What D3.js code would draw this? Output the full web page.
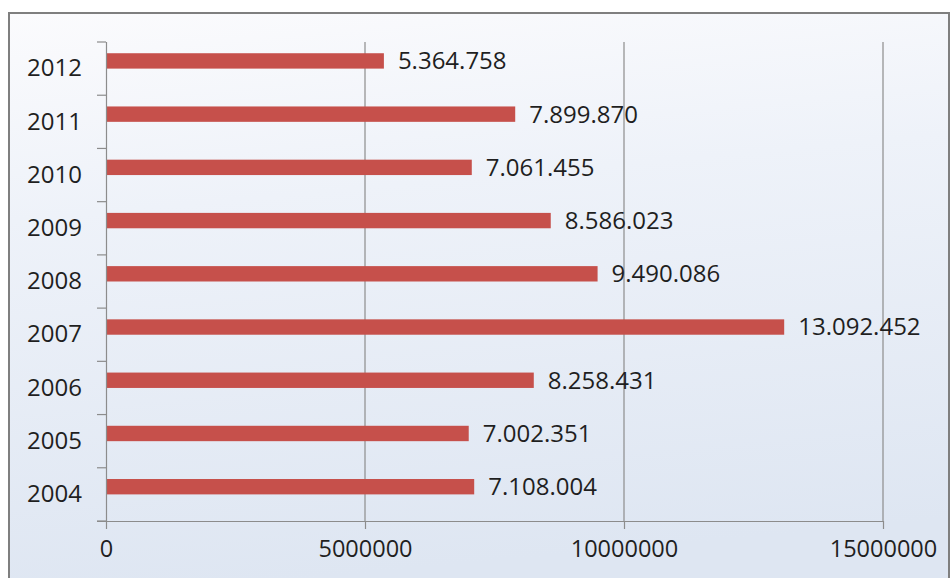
<!DOCTYPE html>
<html>
<head>
<meta charset="utf-8">
<script src="https://cdn.jsdelivr.net/npm/d3@7"></script>
<style>
  html, body { margin: 0; padding: 0; background: #ffffff; }
  svg { display: block; }
</style>
</head>
<body>
<script>
// Yearly totals, top to bottom
const years = ["2012", "2011", "2010", "2009", "2008", "2007", "2006", "2005", "2004"];
const values = [5364758, 7899870, 7061455, 8586023, 9490086, 13092452, 8258431, 7002351, 7108004];
const valueLabels = ["5.364.758", "7.899.870", "7.061.455", "8.586.023", "9.490.086", "13.092.452", "8.258.431", "7.002.351", "7.108.004"];
const xTicks = [0, 5000000, 10000000, 15000000];

const W = 951, H = 578;
const plot = { left: 106, right: 883, top: 42, bottom: 521 };
const font = "'Open Sans', 'DejaVu Sans', sans-serif";
const fontSize = 24;

const svg = d3.select("body").append("svg").attr("width", W).attr("height", H);

// Chart-area background gradient
const defs = svg.append("defs");
const bg = defs.append("linearGradient").attr("id", "bg")
  .attr("x1", 0).attr("y1", 0).attr("x2", 0.15).attr("y2", 1);
bg.append("stop").attr("offset", "0%").attr("stop-color", "#fbfbfd");
bg.append("stop").attr("offset", "35%").attr("stop-color", "#eef2f9");
bg.append("stop").attr("offset", "100%").attr("stop-color", "#dee6f2");

svg.append("rect").attr("x", 9).attr("y", 13).attr("width", 940).attr("height", 580)
  .attr("fill", "url(#bg)").attr("stroke", "#7f7f7f").attr("stroke-width", 2);

const x = d3.scaleLinear().domain([0, 15000000]).range([plot.left, plot.right]);
const y = d3.scaleBand().domain(years).range([plot.top, plot.bottom]);
// two slots per category; the bars sit in the first slot
const slot = d3.scaleBand().domain(["a", "b"]).range([0, y.bandwidth()]).paddingOuter(0.73).paddingInner(0);

// Vertical gridlines
svg.append("g").selectAll("line").data(xTicks.slice(1)).join("line")
  .attr("x1", d => x(d)).attr("x2", d => x(d))
  .attr("y1", plot.top).attr("y2", plot.bottom)
  .attr("stroke", "#8c8c8c").attr("stroke-width", 1.2);

// Bars
svg.append("g").selectAll("rect").data(values).join("rect")
  .attr("x", x(0))
  .attr("y", (d, i) => y(years[i]) + slot("a"))
  .attr("width", d => x(d) - x(0))
  .attr("height", slot.bandwidth())
  .attr("fill", "#c6504b");

// Value labels
svg.append("g").selectAll("text").data(values).join("text")
  .attr("x", d => x(d) + 14)
  .attr("y", (d, i) => y(years[i]) + slot("a") + slot.bandwidth() / 2)
  .attr("dy", "0.35em")
  .attr("font-family", font).attr("font-size", fontSize).attr("fill", "#1f1f1f")
  .text((d, i) => valueLabels[i]);

// X axis
const xAxis = svg.append("g").attr("transform", `translate(0,${plot.bottom})`)
  .call(d3.axisBottom(x).tickValues(xTicks).tickFormat(d3.format("d")).tickSize(8).tickSizeOuter(0));
xAxis.select(".domain").attr("stroke", "#8c8c8c").attr("stroke-width", 1.2)
  .attr("d", `M${plot.left - 9},0.5H${plot.right}`);
xAxis.selectAll(".tick line").attr("stroke", "#8c8c8c").attr("stroke-width", 1.2);
xAxis.selectAll(".tick text").attr("font-family", font).attr("font-size", fontSize - 0.5)
  .attr("fill", "#1f1f1f").attr("y", 19).attr("dy", "0.71em");

// Y axis
const yAxis = svg.append("g").attr("transform", `translate(${plot.left},0)`)
  .call(d3.axisLeft(y).tickSize(0).tickPadding(24));
yAxis.select(".domain").attr("stroke", "#8c8c8c").attr("stroke-width", 1.2)
  .attr("d", `M0.5,${plot.top}V${plot.bottom}`);
yAxis.selectAll(".tick text").attr("font-family", font).attr("font-size", fontSize).attr("fill", "#1f1f1f");
// category boundary ticks
svg.append("g").selectAll("line").data(years.slice().concat(["end"])).join("line")
  .attr("x1", plot.left - 9).attr("x2", plot.left)
  .attr("y1", (d, i) => plot.top + i * y.step()).attr("y2", (d, i) => plot.top + i * y.step())
  .attr("stroke", "#8c8c8c").attr("stroke-width", 1.2);
</script>
</body>
</html>
